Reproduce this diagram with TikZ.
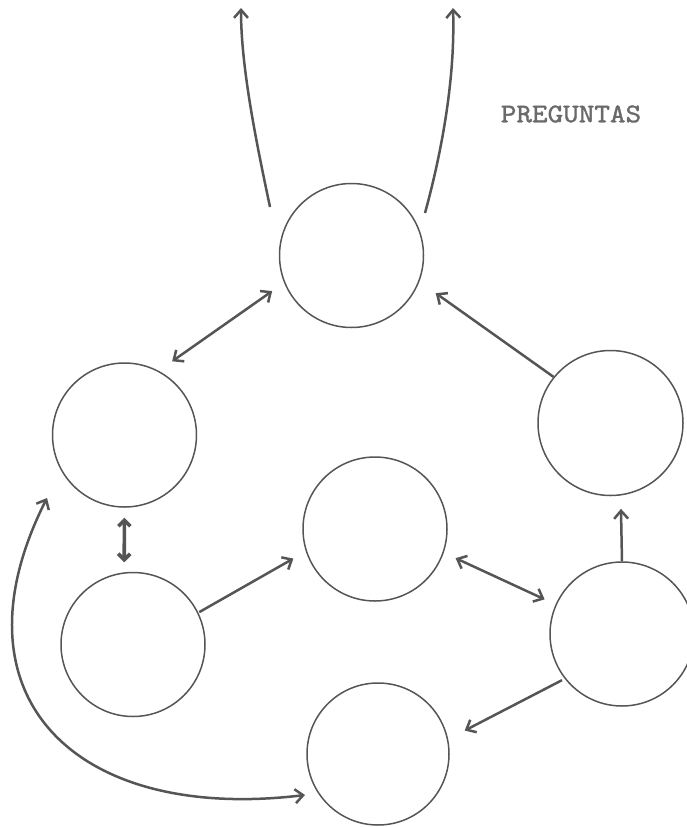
\documentclass[tikz,border=0pt]{standalone}
\usepackage{fontspec}
\newfontfamily\typewriter[FakeBold=1.3]{lmmono10-regular.otf}
\usetikzlibrary{arrows.meta}
\definecolor{ink}{HTML}{555555}
\definecolor{inklabel}{HTML}{6A6A6A}
\begin{document}
\begin{tikzpicture}[x=1pt,y=-1pt,
  blob/.style={circle,draw=ink,line width=1.5pt,minimum size=144pt,inner sep=0pt},
  link/.style={draw=ink,line width=2.5pt,-{Straight Barb[length=8pt,width=14pt]}},
  bilink/.style={draw=ink,line width=2.5pt,{Straight Barb[length=8pt,width=14pt]}-{Straight Barb[length=8pt,width=14pt]}},
  fatlink/.style={draw=ink,line width=3.6pt,{Straight Barb[length=6pt,width=12pt]}-{Straight Barb[length=6pt,width=12pt]}}]
\useasboundingbox (0,0) rectangle (687,827);

% circles
\node[blob] (T)  at (351.5,255.5) {};
\node[blob] (L)  at (124.5,435) {};
\node[blob,minimum size=145pt] (R)  at (610.5,423) {};
\node[blob] (Ce) at (375,529) {};
\node[blob] (BL) at (133,644.5) {};
\node[blob] (BR) at (622,634) {};
\node[blob,minimum size=142pt] (B)  at (378,754) {};

% label
\node[text=inklabel, font=\fontsize{27}{27}\selectfont\typewriter, xscale=1.1] (q) at (571,114) {PREGUNTAS};

% upward arrows
\coordinate (tlTail) at (270,207);
\coordinate (tlHead) at (241,8);
\coordinate (trTail) at (425,213);
\coordinate (trHead) at (453,8);
\draw[link] (tlTail) .. controls (258,150) and (241,70) .. (tlHead);
\draw[link] (trTail) .. controls (445,140) and (455,70) .. (trHead);

% connectors
\draw[bilink, shorten <=14.5pt, shorten >=16.5pt] (T.202) -- (L.62);
\draw[link, shorten >=20pt] (R.141) -- (T.339);
\draw[fatlink, shorten <=10pt, shorten >=10pt] (L.270) -- (BL.97);
\draw[link, shorten <=1pt, shorten >=14.3pt] (BL.26) -- (Ce.198);
\draw[bilink, shorten <=13pt, shorten >=12pt] (Ce.341) -- (BR.156);
\draw[link, shorten >=13.3pt] (BR.90) -- (R.278);
\draw[link, shorten <=3pt, shorten >=18.6pt] (BR.218) -- (B.12);

% long curved connector between L and B
\coordinate (cL) at ([shift={(-77.5,63)}]L.center);
\coordinate (cB) at ([shift={(-73,41)}]B.center);
\draw[bilink] (cL) .. controls (-52,694) and (72,823) .. (cB);
\end{tikzpicture}
\end{document}
